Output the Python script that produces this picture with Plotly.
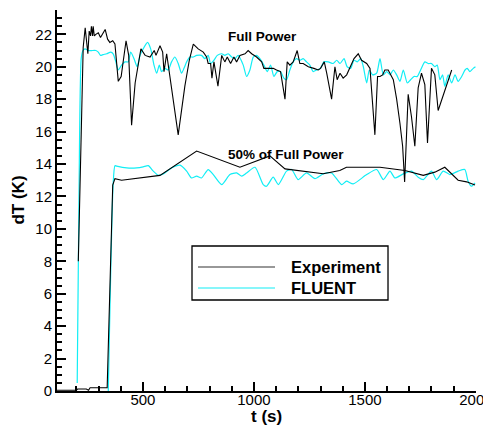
import plotly.graph_objects as go

# ---- Full power: experiment ----
exp_full_t = [209, 225, 231, 240, 252, 258, 264, 268, 273, 276, 281, 288, 299, 309, 318, 330, 341, 351, 364, 374,
              389, 402, 424, 436, 449, 465, 491, 510, 532, 551, 559, 577, 589, 595, 607, 619, 659, 689, 709, 727,
              749, 772, 787, 794, 805, 811, 820, 838, 855, 869, 880, 895, 910, 922, 937, 960, 974, 990, 1012, 1035,
              1045, 1064, 1087, 1102, 1120, 1140, 1150, 1162, 1177, 1195, 1207, 1222, 1245, 1270, 1290, 1300, 1317,
              1328, 1350, 1365, 1375, 1388, 1402, 1418, 1433, 1451, 1470, 1485, 1508, 1523, 1545, 1557, 1568, 1580,
              1590, 1605, 1628, 1643, 1658, 1670, 1679, 1695, 1710, 1725, 1740, 1755, 1770, 1782, 1800, 1815, 1830,
              1860, 1891]
exp_full_T = [8.0, 18.8, 21.2, 22.4, 20.8, 22.2, 21.9, 22.5, 21.9, 22.5, 21.9, 22.0, 22.1, 21.8, 22.0, 22.3, 21.7, 21.5, 21.6, 21.4,
              19.1, 19.4, 21.6, 20.7, 16.4, 19.0, 21.1, 20.7, 20.6, 21.0, 20.7, 21.3, 20.9, 19.7, 20.8, 19.6, 15.8, 18.8, 20.4, 21.4,
              21.1, 20.9, 20.6, 20.2, 20.2, 19.3, 20.3, 18.8, 20.7, 20.3, 20.6, 20.2, 20.6, 20.3, 20.7, 20.8, 21.0, 20.8, 20.6, 20.3,
              19.9, 19.9, 19.9, 19.8, 19.7, 18.0, 20.3, 20.1, 20.3, 21.0, 20.2, 20.2, 20.0, 19.9, 19.8, 19.9, 20.3,
              19.6, 18.0, 20.0, 19.2, 19.6, 19.3, 19.5, 20.0, 20.5, 20.8, 20.4, 20.2, 19.9, 15.8, 19.4, 19.4, 19.5,
              19.8, 19.8, 19.2, 18.0, 16.5, 15.1, 12.9, 18.3, 16.9, 15.1, 18.7, 19.6, 18.9, 15.3, 19.9, 19.5, 17.3,
              18.6, 19.8]

# ---- Full power: FLUENT ----
cfd_full_t = [204, 212, 222, 230, 239, 254, 269, 288, 299, 309, 321, 337, 355, 366, 378, 389, 404, 419, 434, 445,
              460, 474, 487, 501, 521, 535, 550, 562, 574, 584, 599, 614, 629, 644, 659, 674, 685, 697, 712, 727,
              742, 764, 779, 794, 805, 820, 835, 855, 869, 884, 900, 914, 929, 952, 967, 982, 997, 1012, 1027, 1045,
              1060, 1075, 1090, 1105, 1120, 1135, 1147, 1162, 1177, 1192, 1207, 1222, 1237, 1252, 1267, 1282, 1300,
              1315, 1335, 1357, 1373, 1388, 1406, 1420, 1436, 1451, 1466, 1481, 1493, 1508, 1520, 1535, 1553, 1568,
              1583, 1598, 1613, 1628, 1643, 1658, 1673, 1691, 1706, 1721, 1736, 1751, 1770, 1785, 1800, 1815, 1826,
              1838, 1850, 1860, 1875, 1891, 1906, 1920, 1936, 1951, 1961, 1973, 1988, 1998]
cfd_full_T = [0.5, 12.0, 20.5, 21.0, 21.1, 21.0, 21.0, 21.0, 20.9, 20.7, 20.75, 20.8, 20.9, 20.8, 20.3, 19.8, 20.1, 20.3, 20.3, 20.9,
              20.5, 20.0, 20.7, 21.1, 21.5, 21.1, 20.1, 19.6, 20.1, 19.7, 19.9, 19.8, 20.3, 20.6, 20.2, 19.6, 19.9, 20.3, 20.6, 20.6,
              20.7, 20.7, 20.5, 20.7, 20.2, 20.4, 20.7, 20.8, 20.7, 20.8, 20.6, 20.5, 20.7, 20.1, 19.4, 19.8, 20.6, 20.7, 20.5, 20.1,
              19.7, 20.1, 19.4, 19.7, 19.7, 19.3, 19.2, 19.8, 20.3, 20.5, 20.4, 20.5, 20.3, 20.1, 19.7, 19.8, 19.9,
              20.3, 20.3, 20.2, 20.4, 20.2, 20.5, 20.0, 19.9, 20.4, 20.3, 20.5, 20.0, 19.0, 19.8, 19.5, 19.6, 20.5,
              19.5, 19.7, 19.5, 19.8, 19.5, 19.1, 19.8, 19.0, 19.2, 19.4, 19.4, 19.8, 20.3, 20.2, 20.2, 20.0, 20.1,
              19.2, 19.5, 18.8, 19.5, 19.0, 19.5, 19.1, 19.4, 19.8, 19.9, 19.7, 19.9, 20.0]

# ---- 50% of full power: experiment ----
exp_half_t = [113, 200, 206, 245, 255, 262, 339, 364, 374, 404, 577, 742, 937, 1072, 1140, 1312, 1387, 1417,
              1568, 1680, 1763, 1815, 1860, 1920, 1958, 1996]
exp_half_T = [0.05, 0.05, 0.12, 0.12, 0.05, 0.2, 0.2, 12.7, 13.1, 13.0, 13.3, 14.8, 13.8, 14.5, 13.7, 13.4, 13.6, 13.8,
              13.8, 13.6, 13.3, 13.5, 13.8, 13.0, 12.9, 12.7]

# ---- 50% of full power: FLUENT ----
cfd_half_t = [344, 366, 374, 382, 427, 472, 501, 524, 547, 569, 592, 629, 667, 697, 719, 742, 764, 794, 817,
              855, 892, 922, 945, 967, 1005, 1042, 1057, 1087, 1110, 1147, 1170, 1199, 1237, 1275, 1312, 1350,
              1395, 1417, 1447, 1508, 1553, 1583, 1613, 1635, 1673, 1710, 1740, 1763, 1800, 1823, 1853, 1883,
              1920, 1950, 1965, 1980, 1996]
cfd_half_T = [0.0, 12.8, 13.9, 13.87, 13.76, 13.76, 13.82, 13.9, 13.56, 13.31, 13.39, 13.76, 13.93, 13.56, 13.14, 13.25, 13.14, 13.66, 13.35,
              12.73, 13.35, 13.45, 13.25, 13.45, 13.8, 12.73, 12.63, 13.19, 12.73, 13.56, 13.66, 13.04, 13.45, 13.1, 13.39, 13.45,
              12.73, 12.94, 12.77, 13.35, 13.66, 13.04, 13.56, 13.14, 13.39, 13.56, 13.19, 13.04, 13.56, 13.04, 13.56, 13.35,
              13.56, 13.66, 12.94, 12.63, 12.83]

legend_labels = ["Experiment", "FLUENT"]
curve_labels = ["Full Power", "50% of Full Power"]
x_title = "t (s)"
y_title = "dT (K)"

BLACK = "#000000"
CYAN = "#11EEF5"
FONT = "Liberation Sans, Arial, sans-serif"

fig = go.Figure()
fig.add_trace(go.Scatter(x=cfd_full_t, y=cfd_full_T, mode="lines", line=dict(color=CYAN, width=1.2, shape="spline", smoothing=0.6), showlegend=False))
fig.add_trace(go.Scatter(x=cfd_half_t, y=cfd_half_T, mode="lines", line=dict(color=CYAN, width=1.2, shape="spline", smoothing=0.6), showlegend=False))
fig.add_trace(go.Scatter(x=exp_full_t, y=exp_full_T, mode="lines", line=dict(color=BLACK, width=1.1), showlegend=False))
fig.add_trace(go.Scatter(x=exp_half_t, y=exp_half_T, mode="lines", line=dict(color=BLACK, width=1.1), showlegend=False))

# manual legend box
L, R, T, B = 0.3222, 0.790, 0.3806, 0.2388
fig.add_shape(type="rect", xref="paper", yref="paper", x0=L, x1=R, y0=B, y1=T,
              line=dict(color="black", width=1.3), fillcolor="white", layer="above")
for yv, col, lab in [(0.3255, "#333333", legend_labels[0]), (0.2703, CYAN, legend_labels[1])]:
    fig.add_shape(type="line", xref="paper", yref="paper", x0=0.3365, x1=0.5203, y0=yv, y1=yv,
                  line=dict(color=col, width=1.2), layer="above")
    fig.add_annotation(xref="paper", yref="paper", x=0.554, y=yv, text="<b>%s</b>" % lab, showarrow=False,
                       xanchor="left", yanchor="middle", font=dict(family=FONT, size=16.5, color="black"))

fig.add_annotation(x=1040, y=21.85, text="<b>%s</b>" % curve_labels[0], showarrow=False,
                   font=dict(family=FONT, size=13.5, color="black"))
fig.add_annotation(x=1145, y=14.6, text="<b>%s</b>" % curve_labels[1], showarrow=False,
                   font=dict(family=FONT, size=13.5, color="black"))

# axis titles
fig.add_annotation(xref="paper", yref="paper", x=0.5, y=-0.068, text="<b>%s</b>" % x_title, showarrow=False,
                   xanchor="center", yanchor="middle", font=dict(family=FONT, size=17, color="black"))
fig.add_annotation(xref="paper", yref="paper", x=-0.093, y=0.5, text="<b>%s</b>" % y_title, showarrow=False,
                   textangle=-90, xanchor="center", yanchor="middle", font=dict(family=FONT, size=17, color="black"))

axis_common = dict(showline=True, linecolor="black", linewidth=2, mirror=False, showgrid=False, zeroline=False,
                   ticks="inside", ticklen=9, tickwidth=2, tickcolor="black", automargin=False,
                   ticklabeloverflow="allow",
                   tickfont=dict(family=FONT, size=15, color="black"))
fig.update_xaxes(range=[113, 2000.5], tick0=0, dtick=500, ticklabelstandoff=-6,
                 minor=dict(ticks="inside", ticklen=5, tickwidth=1.5, tickcolor="black", dtick=100, tick0=0),
                 **axis_common)
fig.update_yaxes(range=[0, 23.5], tick0=0, dtick=2,
                 minor=dict(ticks="inside", ticklen=5, tickwidth=1.5, tickcolor="black", dtick=0.5, tick0=0),
                 **axis_common)

# the page places the figure 8 px from the top-left corner
fig.update_layout(width=483, height=420, margin=dict(l=49, r=15, t=2, b=37),
                  plot_bgcolor="white", paper_bgcolor="white", showlegend=False)

fig.write_html("out.html")
